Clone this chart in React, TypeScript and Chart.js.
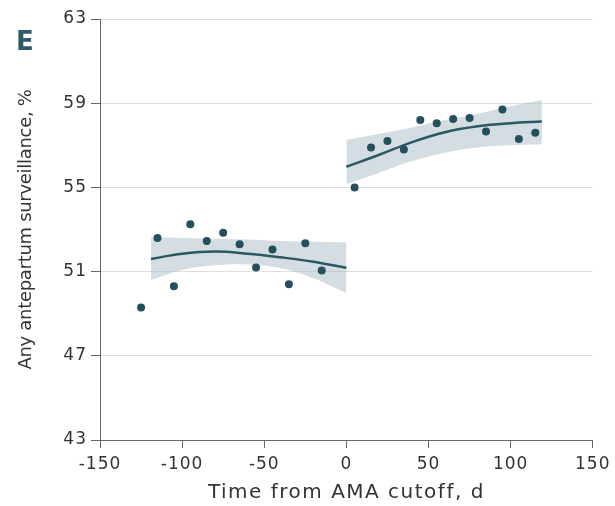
import React, { useEffect, useRef } from "react";
import { Chart, registerables } from "chart.js";

Chart.register(...registerables);

// Axis ticks
const xTickValues = [-150, -100, -50, 0, 50, 100, 150];
const yTickValues = [43, 47, 51, 55, 59, 63];

// Binned observations
const beforeDays = [-125, -115, -105, -95, -85, -75, -65, -55, -45, -35, -25, -15];
const beforeRates = [49.3, 52.6, 50.3, 53.25, 52.45, 52.85, 52.3, 51.2, 52.05, 50.4, 52.35, 51.05];
const afterDays = [5, 15, 25, 35, 45, 55, 65, 75, 85, 95, 105, 115];
const afterRates = [55.0, 56.9, 57.2, 56.8, 58.2, 58.05, 58.25, 58.3, 57.65, 58.7, 57.3, 57.6];

// Fitted curves and confidence bands
const beforeFitDays = [-119, -100, -80, -60, -40, -20, 0];
const beforeFit = [51.6, 51.85, 51.95, 51.85, 51.68, 51.47, 51.18];
const beforeUpper = [52.63, 52.6, 52.56, 52.52, 52.45, 52.42, 52.39];
const beforeLower = [50.6, 51.08, 51.3, 51.34, 51.16, 50.68, 49.97];

const afterFitDays = [0, 20, 40, 60, 80, 100, 119];
const afterFit = [55.98, 56.55, 57.15, 57.62, 57.9, 58.05, 58.13];
const afterUpper = [57.25, 57.55, 57.85, 58.2, 58.5, 58.85, 59.15];
const afterLower = [55.15, 55.7, 56.25, 56.65, 56.9, 57.0, 57.05];

const toPts = (xs: number[], ys: number[]) => xs.map((x, i) => ({ x, y: ys[i] }));

const DOT = "#24505d";
const LINE = "#2b5866";
const BAND = "rgba(160,180,190,0.45)";

const patchTitle = (chart: any, id: string, spacing: string) => {
  const s: any = chart.scales[id];
  if (!s || s._patchedTitle) return;
  const orig = s.drawTitle.bind(s);
  s.drawTitle = function () {
    const c = chart.ctx as any;
    const prev = c.letterSpacing;
    c.letterSpacing = spacing;
    orig();
    c.letterSpacing = prev;
  };
  s._patchedTitle = true;
};

const spacingPlugin = {
  id: "spacing",
  beforeDraw(chart: any) {
    (chart.ctx as any).letterSpacing = "1px";
    patchTitle(chart, "x", "1.5px");
    patchTitle(chart, "y", "-0.3px");
  },
};

export default function App() {
  const ref = useRef<HTMLCanvasElement | null>(null);

  useEffect(() => {
    document.body.style.margin = "0";
    document.body.style.overflow = "hidden";
    if (!ref.current) return;
    const bandDs = (xs: number[], ys: number[], fill: any) => ({
      type: "line" as const,
      data: toPts(xs, ys),
      borderWidth: 0,
      borderColor: "rgba(0,0,0,0)",
      backgroundColor: BAND,
      pointRadius: 0,
      fill,
      tension: 0.4,
      order: 3,
    });
    const lineDs = (xs: number[], ys: number[]) => ({
      type: "line" as const,
      data: toPts(xs, ys),
      borderWidth: 2.5,
      borderColor: LINE,
      pointRadius: 0,
      fill: false,
      tension: 0.4,
      order: 2,
    });
    const dotDs = (xs: number[], ys: number[]) => ({
      type: "line" as const,
      data: toPts(xs, ys),
      showLine: false,
      pointRadius: 4,
      pointBorderWidth: 0,
      pointBackgroundColor: DOT,
      borderColor: DOT,
      fill: false,
      order: 0,
    });

    const chart = new Chart(ref.current, {
      type: "line",
      data: {
        datasets: [
          bandDs(beforeFitDays, beforeUpper, false), // 0
          bandDs(beforeFitDays, beforeLower, 0), // 1
          bandDs(afterFitDays, afterUpper, false), // 2
          bandDs(afterFitDays, afterLower, 2), // 3
          lineDs(beforeFitDays, beforeFit),
          lineDs(afterFitDays, afterFit),
          dotDs(beforeDays, beforeRates),
          dotDs(afterDays, afterRates),
        ] as any,
      },
      options: {
        animation: false,
        responsive: true,
        maintainAspectRatio: false,
        layout: { padding: { top: 19, right: 22, left: 0, bottom: 0 } },
        plugins: {
          legend: { display: false },
          tooltip: { enabled: false },
        },
        scales: {
          x: {
            type: "linear",
            min: -150,
            max: 150,
            afterBuildTicks: (s: any) => {
              s.ticks = xTickValues.map((v) => ({ value: v }));
            },
            afterFit: (s: any) => {
              s.height = 66;
            },
            grid: {
              display: true,
              drawOnChartArea: false,
              drawTicks: true,
              tickLength: 8,
              tickColor: "#666",
            },
            border: { color: "#666", width: 1 },
            ticks: {
              color: "#333",
              padding: 6,
              maxRotation: 0,
              font: { family: "'DejaVu Sans', sans-serif", size: 17 },
            },
            title: {
              display: true,
              text: "Time from AMA cutoff, d",
              color: "#333",
              padding: { top: 0, bottom: 1 },
              font: { family: "'DejaVu Sans', sans-serif", size: 20 },
            },
          },
          y: {
            type: "linear",
            min: 43,
            max: 63,
            afterBuildTicks: (s: any) => {
              s.ticks = yTickValues.map((v) => ({ value: v }));
            },
            afterFit: (s: any) => {
              s.width = 100;
            },
            grid: {
              display: true,
              drawOnChartArea: true,
              color: "#dedede",
              lineWidth: 1,
              drawTicks: true,
              tickLength: 9,
              tickColor: "#666",
            },
            border: { color: "#666", width: 1 },
            ticks: {
              color: "#333",
              padding: 4,
              font: { family: "'DejaVu Sans', sans-serif", size: 17 },
            },
            title: {
              display: true,
              text: "Any antepartum surveillance, %",
              color: "#333",
              padding: { top: 16, bottom: 0 },
              font: { family: "'DejaVu Sans', sans-serif", size: 18 },
            },
          },
        },
      },
      plugins: [spacingPlugin],
    });
    return () => chart.destroy();
  }, []);

  return (
    <div style={{ position: "relative", width: 615, height: 506 }}>
      <canvas ref={ref} />
      <div
        style={{
          position: "absolute",
          left: 16,
          top: 28,
          fontFamily: "'DejaVu Sans', sans-serif",
          fontWeight: "bold",
          fontSize: 26,
          lineHeight: "26px",
          color: "#2e5b69",
        }}
      >
        E
      </div>
    </div>
  );
}
